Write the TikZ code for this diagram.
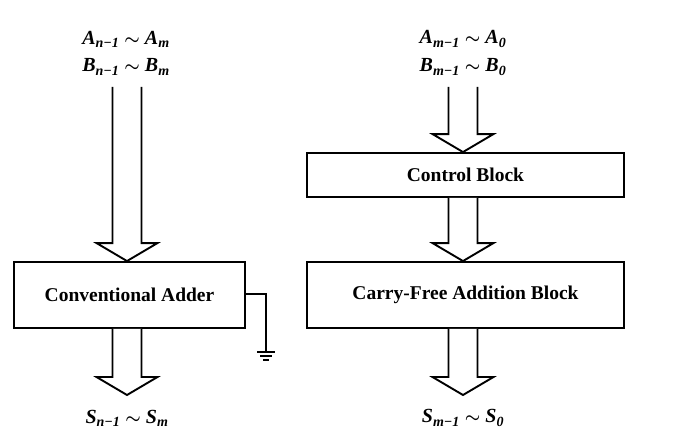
\documentclass[tikz,border=0pt]{standalone}
\usepackage{fontspec}
\setmainfont{Liberation Serif}
\usetikzlibrary{calc}
\newcommand\lbl[3]{{\bfseries\itshape #1\textsubscript{#2}\ {\fontsize{16}{18}\selectfont\boldmath$\sim$}\ #1\textsubscript{#3}}}
\begin{document}
\begin{tikzpicture}[x=1pt,y=-1pt,
  blk/.style={draw,line width=1.9pt,fill=white,inner sep=0pt,
    font=\fontsize{19.5}{22}\bfseries},
  lab/.style={inner sep=0pt,font=\fontsize{20}{24}\selectfont},
  harrow/.style={draw,line width=1.9pt,line join=miter,fill=white},
  wire/.style={line width=1.9pt}]
\useasboundingbox (0,0) rectangle (678,436);
% labels
\node[lab] (inA1) at (126,39) {\lbl{A}{n−1}{m}};
\node[lab] (inB1) at (126,67) {\lbl{B}{n−1}{m}};
\node[lab] (inA2) at (463,39) {\lbl{A}{m−1}{0}};
\node[lab] (inB2) at (463,67) {\lbl{B}{m−1}{0}};
\node[lab] (out1) at (127,418) {\lbl{S}{n−1}{m}};
\node[lab] (out2) at (463,418) {\lbl{S}{m−1}{0}};
% blocks
\node[blk,minimum width=231pt,minimum height=66pt] (conv) at (129.5,295) {Conventional Adder};
\node[blk,minimum width=317pt,minimum height=44pt] (ctrl) at (465.5,175) {Control Block};
\node[blk,minimum width=317pt,minimum height=66pt] (cfa) at (465.5,295) {Carry-Free Addition Block};
% hollow arrows: #1 start (center of open end), #2 tip
\newcommand\harr[2]{%
  \draw[harrow] ($(#1)+(-14.5,0)$) -- ($(#2)+(-14.5,-18)$) -- ($(#2)+(-30.5,-18)$)
    -- (#2) -- ($(#2)+(30.5,-18)$) -- ($(#2)+(14.5,-18)$) -- ($(#1)+(14.5,0)$);}
\coordinate (s1) at ($(inB1)+(1,20)$);
\coordinate (t1) at (s1 |- conv.north);
\harr{s1}{t1}
\coordinate (s2) at ($(inB2)+(0,20)$);
\coordinate (t2) at (s2 |- ctrl.north);
\harr{s2}{t2}
\coordinate (s3) at (inB2 |- ctrl.south);
\coordinate (t3) at (inB2 |- cfa.north);
\harr{s3}{t3}
\coordinate (s4) at (out1 |- conv.south);
\coordinate (t4) at ($(out1)+(0,-23)$);
\harr{s4}{t4}
\coordinate (s5) at (out2 |- cfa.south);
\coordinate (t5) at ($(out2)+(0,-23)$);
\harr{s5}{t5}
% ground
\coordinate (gnd) at (266,352);
\draw[wire] ($(conv.east)+(0,-1)$) -| (gnd);
\draw[wire] ($(gnd)+(-9,0)$) -- ($(gnd)+(9,0)$);
\draw[wire] ($(gnd)+(-6,4)$) -- ($(gnd)+(6,4)$);
\draw[wire] ($(gnd)+(-3,8)$) -- ($(gnd)+(3,8)$);
\end{tikzpicture}
\end{document}
